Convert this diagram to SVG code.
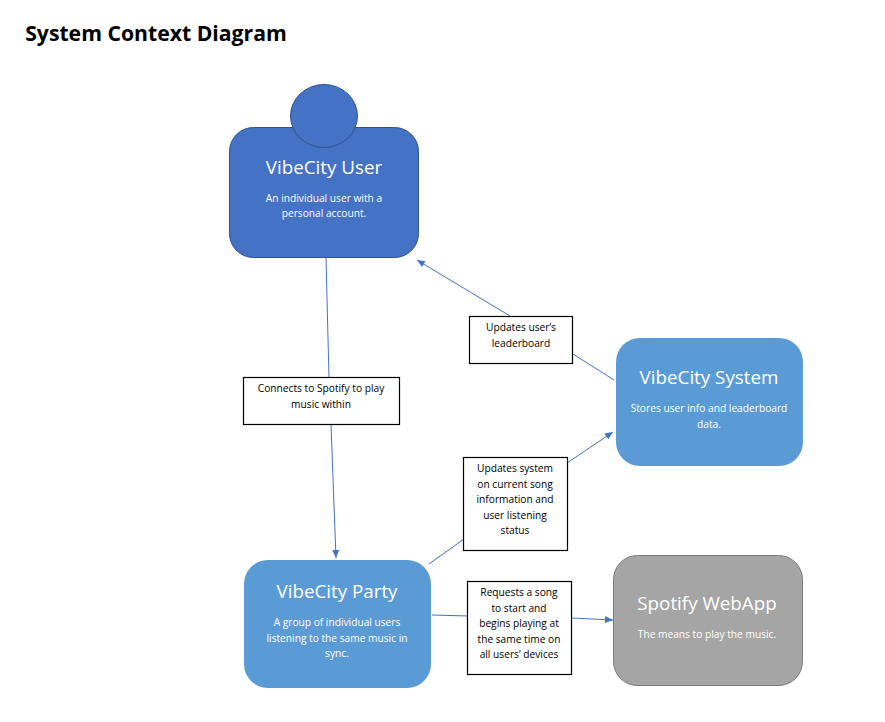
<svg xmlns="http://www.w3.org/2000/svg" width="885" height="722" viewBox="0 0 885 722">
<style>
text{font-family:"Open Sans","Noto Sans","Liberation Sans",sans-serif;text-anchor:middle}
.h{font-size:18.800px;fill:#fff}
.d{font-size:10.200px;fill:#fff}
.l{font-size:10.200px;fill:#000}
.b{fill:#fff;stroke:#000;stroke-width:1.2}
.c{fill:none;stroke:#4472c4;stroke-width:1}
</style>
<defs><marker id="a" markerUnits="userSpaceOnUse" markerWidth="9" markerHeight="8" refX="8" refY="3.5" orient="auto"><path d="M0 0L8 3.5L0 7z" fill="#4472c4"/></marker></defs>
<rect width="885" height="722" fill="#fff"/>
<text x="156" y="41" style="font-size:21.200px;font-weight:700;fill:#000">System Context Diagram</text>
<g id="connectors">
<path class="c" d="M326 258L329 378"/>
<path class="c" d="M331 424L336 558" marker-end="url(#a)"/>
<path class="c" d="M510 316L417 260" marker-end="url(#a)"/>
<path class="c" d="M573 354L614 380"/>
<path class="c" d="M429 564L464 539"/>
<path class="c" d="M567 463L613 432" marker-end="url(#a)"/>
<path class="c" d="M432 615L468 616"/>
<path class="c" d="M572 618L613 620" marker-end="url(#a)"/>
</g>
<g id="user">
<rect x="229.500" y="127.500" width="189" height="130" rx="24" fill="#4472c4" stroke="#2f528f"/>
<ellipse cx="324" cy="116" rx="33.500" ry="31.500" fill="#4472c4" stroke="#2f528f"/>
<text class="h" x="324" y="174">VibeCity User</text>
<text class="d" x="324" y="202">An individual user with a</text>
<text class="d" x="324" y="217">personal account.</text>
</g>
<g id="system">
<rect x="616" y="338" width="187" height="128" rx="24" fill="#5b9bd5"/>
<text class="h" x="709" y="384">VibeCity System</text>
<text class="d" x="709" y="412">Stores user info and leaderboard</text>
<text class="d" x="709" y="428">data.</text>
</g>
<g id="party">
<rect x="244" y="560" width="187" height="128" rx="24" fill="#5b9bd5"/>
<text class="h" x="337" y="598">VibeCity Party</text>
<text class="d" x="337" y="626">A group of individual users</text>
<text class="d" x="337" y="642">listening to the same music in</text>
<text class="d" x="337" y="657">sync.</text>
</g>
<g id="spotify">
<rect x="613.500" y="555.500" width="189" height="130" rx="24" fill="#a5a5a5" stroke="#7b7b7b"/>
<text class="h" x="707" y="610">Spotify WebApp</text>
<text class="d" x="707" y="638">The means to play the music.</text>
</g>
<g id="label-leaderboard">
<rect class="b" x="469.500" y="316.500" width="103" height="47"/>
<text class="l" x="521" y="331">Updates user’s</text>
<text class="l" x="521" y="347">leaderboard</text>
</g>
<g id="label-connects">
<rect class="b" x="243.500" y="377.500" width="156" height="47"/>
<text class="l" x="321" y="392">Connects to Spotify to play</text>
<text class="l" x="321" y="408">music within</text>
</g>
<g id="label-updates">
<rect class="b" x="463.500" y="457.500" width="104" height="93"/>
<text class="l" x="515" y="472">Updates system</text>
<text class="l" x="515" y="488">on current song</text>
<text class="l" x="515" y="503">information and</text>
<text class="l" x="515" y="519">user listening</text>
<text class="l" x="515" y="534">status</text>
</g>
<g id="label-requests">
<rect class="b" x="467.500" y="581.500" width="104" height="93"/>
<text class="l" x="519" y="596">Requests a song</text>
<text class="l" x="519" y="612">to start and</text>
<text class="l" x="519" y="627">begins playing at</text>
<text class="l" x="519" y="643">the same time on</text>
<text class="l" x="519" y="658">all users’ devices</text>
</g>
</svg>
